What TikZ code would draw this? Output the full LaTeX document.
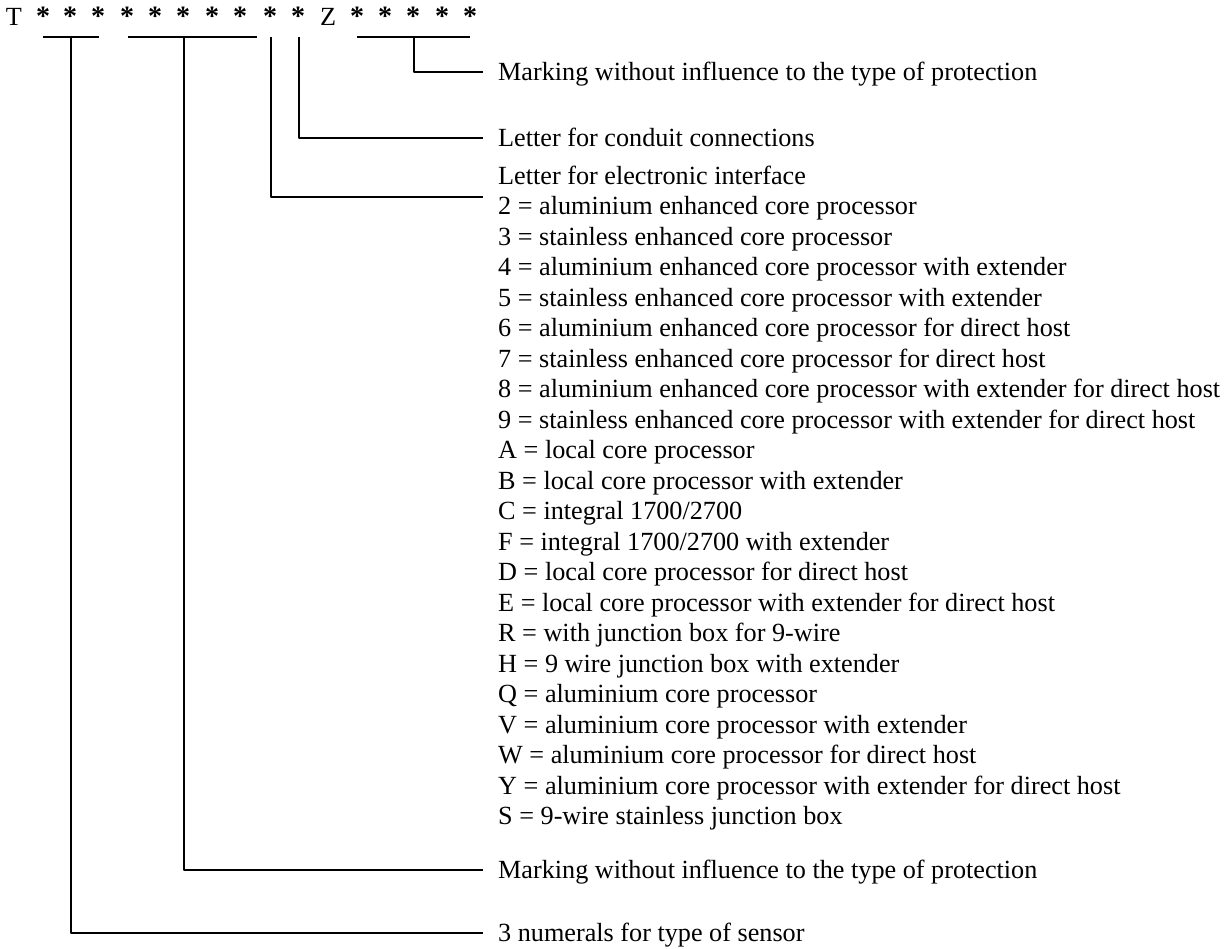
\documentclass[tikz,border=0pt]{standalone}
\usepackage{fontspec}
\setmainfont{Liberation Serif}
\begin{document}
\begin{tikzpicture}[x=1pt,y=-1pt,line join=round,font=\fontsize{26.2}{30.5}\selectfont]
	\tikzset{bar/.style={line width=2.6pt},
		lbl/.style={anchor=base west,inner xsep=15pt,inner ysep=0pt}}
	\useasboundingbox (0,0) rectangle (1225,948);
	\def\yc{25} \def\ybar{37} \def\xl{483} % code row, bars, label start
	% code row
	\node[anchor=base] (t) at (14,\yc) {T};
	\foreach \i/\x in {1/43,2/70,3/98,4/127,5/155,6/183,7/212,8/240,9/270,10/298}
		\node[anchor=base,font=\fontsize{28}{30}\selectfont\bfseries] (s\i) at (\x,\yc) {*};
	\node[anchor=base] (z) at (328,\yc) {Z};
	\foreach \i/\x in {1/357,2/385,3/413,4/442,5/470}
		\node[anchor=base,font=\fontsize{28}{30}\selectfont\bfseries] (r\i) at (\x,\yc) {*};
	% labels
	\node[lbl] (mark1) at (\xl,80) {Marking without influence to the type of protection};
	\node[lbl] (conduit) at (\xl,146) {Letter for conduit connections};
	\node[lbl] (elec) at (\xl,184) {Letter for electronic interface};
	\foreach \k/\txt in {1/{2 = aluminium enhanced core processor},
		2/{3 = stainless enhanced core processor},
		3/{4 = aluminium enhanced core processor with extender},
		4/{5 = stainless enhanced core processor with extender},
		5/{6 = aluminium enhanced core processor for direct host},
		6/{7 = stainless enhanced core processor for direct host},
		7/{8 = aluminium enhanced core processor with extender for direct host},
		8/{9 = stainless enhanced core processor with extender for direct host},
		9/{A = local core processor},
		10/{B = local core processor with extender},
		11/{C = integral 1700/2700},
		12/{F = integral 1700/2700 with extender},
		13/{D = local core processor for direct host},
		14/{E = local core processor with extender for direct host},
		15/{R = with junction box for 9-wire},
		16/{H = 9 wire junction box with extender},
		17/{Q = aluminium core processor},
		18/{V = aluminium core processor with extender},
		19/{W = aluminium core processor for direct host},
		20/{Y = aluminium core processor with extender for direct host},
		21/{S = 9-wire stainless junction box}}
		\node[lbl] (opt\k) at (\xl,184+30.5*\k) {\txt};
	\node[lbl] (mark2) at (\xl,878) {Marking without influence to the type of protection};
	\node[lbl] (sensor) at (\xl,941) {3 numerals for type of sensor};
	% bars under the code row
	\coordinate (b1) at (71,\ybar); \coordinate (b2) at (184,\ybar);
	\coordinate (b3) at (271,\ybar); \coordinate (b4) at (299,\ybar);
	\coordinate (b5) at (414,\ybar);
	\draw[bar] (43,\ybar)--(99,\ybar);
	\draw[bar] (128,\ybar)--(257,\ybar);
	\draw[bar] (357,\ybar)--(470,\ybar);
	% connectors
	\draw[bar] (b1) |- ([yshift=8pt]sensor.base west);
	\draw[bar] (b2) |- ([yshift=8pt]mark2.base west);
	\draw[bar] (b3) |- ([yshift=-13pt]elec.base west);
	\draw[bar] (b4) |- ([yshift=8pt]conduit.base west);
	\draw[bar] (b5) |- ([yshift=8pt]mark1.base west);
\end{tikzpicture}
\end{document}
